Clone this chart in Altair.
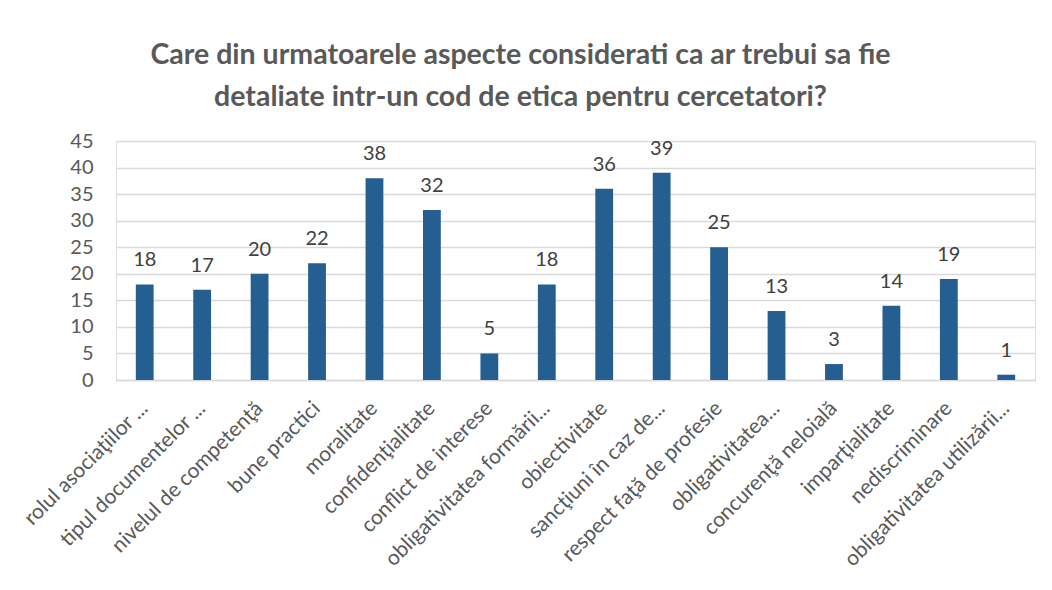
import altair as alt
import pandas as pd

categories = [
    "rolul asociaţiilor ...",
    "tipul documentelor ...",
    "nivelul de competenţă",
    "bune practici",
    "moralitate",
    "confidenţialitate",
    "conflict de interese",
    "obligativitatea formării...",
    "obiectivitate",
    "sancţiuni în caz de...",
    "respect faţă de profesie",
    "obligativitatea...",
    "concurenţă neloială",
    "imparţialitate",
    "nediscriminare",
    "obligativitatea utilizării...",
]
values = [18, 17, 20, 22, 38, 32, 5, 18, 36, 39, 25, 13, 3, 14, 19, 1]
title_lines = [
    "Care din urmatoarele aspecte considerati ca ar trebui sa fie",
    "detaliate intr-un cod de etica pentru cercetatori?",
]

df = pd.DataFrame({"cat": categories, "val": values})

FONT = "Lato"

x = alt.X("cat:N", sort=categories, title=None,
          scale=alt.Scale(paddingInner=0.69, paddingOuter=0.345),
          axis=alt.Axis(labelAngle=-45, labelFontSize=21, labelColor="#595959",
                        labelFont=FONT, labelAlign="right", labelBaseline="middle",
                        labelLimit=400, ticks=False, domain=True, domainColor="#D9D9D9",
                        domainWidth=1.5, labelPadding=25, labelOverlap=False))
y = alt.Y("val:Q", title=None,
          scale=alt.Scale(domain=[0, 45]),
          axis=alt.Axis(values=list(range(0, 50, 5)), labelFontSize=20, labelColor="#595959",
                        labelFont=FONT, ticks=False, domain=False,
                        gridColor="#D9D9D9", gridWidth=1.5, labelPadding=23))

bars = alt.Chart(df).mark_bar(color="#255E91").encode(x=x, y=y)
text = alt.Chart(df).mark_text(dy=-24, fontSize=20, color="#404040", font=FONT,
                               baseline="middle").encode(x=x, y=y, text="val:Q")

chart = (bars + text).properties(
    width=919, height=239,
    autosize=alt.AutoSizeParams(type="none"),
    padding={"left": 108, "top": 133, "right": 9, "bottom": 200},
    title=alt.TitleParams(
        title_lines,
        fontSize=28.5, font=FONT, fontWeight="bold", color="#595959",
        anchor="middle", frame="group", lineHeight=42, offset=20, dx=-55),
).configure_view(stroke=None).configure(background="white")

chart.save("out.html", embed_options={"renderer": "svg", "actions": False})
